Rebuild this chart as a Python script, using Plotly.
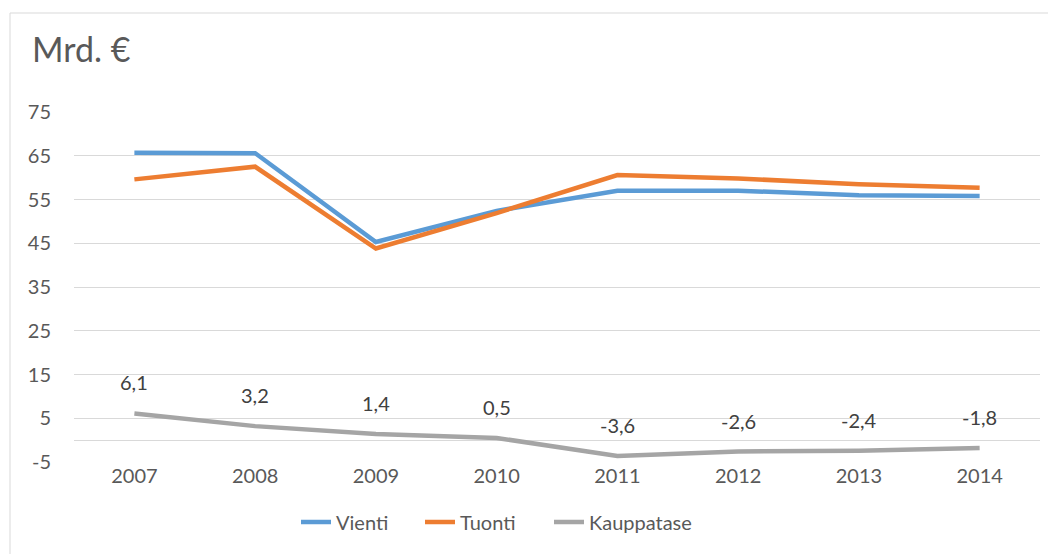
import plotly.graph_objects as go

years = ["2007", "2008", "2009", "2010", "2011", "2012", "2013", "2014"]
vienti = [65.7, 65.6, 45.3, 52.4, 57.0, 57.0, 56.0, 55.8]
tuonti = [59.6, 62.5, 43.8, 51.9, 60.6, 59.8, 58.5, 57.7]
kauppatase = [6.1, 3.2, 1.4, 0.5, -3.6, -2.6, -2.4, -1.8]
y_ticks = [-5, 5, 15, 25, 35, 45, 55, 65, 75]

FONT = "Lato"
TXT = "#595959"

# page body has an 8px margin: compensate so the plot lands where the reference has it
OFF = 8
L, T, PW, PH = 74 - OFF, 112 - OFF, 966, 350
W, H = 1056, 554
R = W - L - PW
B = H - T - PH


def px_x(p):
    return (p - OFF - L) / PW


def px_y(p):
    return (T + PH - (p - OFF)) / PH


series = [("Vienti", vienti, "#5B9BD5", "legend", 296),
          ("Tuonti", tuonti, "#ED7D31", "legend2", 420),
          ("Kauppatase", kauppatase, "#A5A5A5", "legend3", 549)]

fig = go.Figure()
legends = {}
for name, vals, col, lg, lx in series:
    fig.add_trace(go.Scatter(x=years, y=vals, name=name, mode="lines", legend=lg,
                             line=dict(color=col, width=4.5, shape="linear"),
                             hoverinfo="x+y"))
    legends[lg] = dict(orientation="h", x=px_x(lx), xanchor="left", y=px_y(522),
                       yanchor="middle", font=dict(family=FONT, size=20, color=TXT),
                       bgcolor="rgba(0,0,0,0)")

annotations = []
for i, v in enumerate(kauppatase):
    annotations.append(dict(x=i, y=v, xref="x", yref="y",
                            text=f"{v:.1f}".replace(".", ","),
                            showarrow=False, yshift=31,
                            font=dict(family=FONT, size=20, color="#404040")))
annotations.append(dict(x=px_x(30), y=px_y(48), xref="paper", yref="paper",
                        text="Mrd. €", showarrow=False, xanchor="left", yanchor="middle",
                        font=dict(family=FONT, size=34, color=TXT)))

fig.update_layout(
    width=W, height=H,
    margin=dict(l=L, r=R, t=T, b=B, autoexpand=False),
    paper_bgcolor="white", plot_bgcolor="white",
    font=dict(family=FONT, size=20, color=TXT),
    showlegend=True,
    annotations=annotations,
    shapes=[dict(type="rect", xref="paper", yref="paper",
                 x0=px_x(10), x1=px_x(1080),
                 y0=px_y(580), y1=px_y(13),
                 line=dict(color="#D9D9D9", width=1), fillcolor="rgba(0,0,0,0)", layer="below")],
    **legends,
)
fig.update_xaxes(type="category", categoryorder="array", categoryarray=years,
                 range=[-0.5, len(years) - 0.5], autorange=False, automargin=False,
                 showgrid=False, showline=False, ticks="",
                 tickfont=dict(family=FONT, size=20, color=TXT))
fig.update_yaxes(range=[-5, 75], autorange=False, automargin=False,
                 tickmode="array", tickvals=y_ticks, ticktext=[str(t) for t in y_ticks],
                 showgrid=True, gridcolor="#D9D9D9",
                 gridwidth=1, zeroline=True, zerolinecolor="#D9D9D9", zerolinewidth=1,
                 showline=False, ticks="", tickfont=dict(family=FONT, size=20, color=TXT),
                 ticklabelstandoff=22)

fig.write_html("out.html")
